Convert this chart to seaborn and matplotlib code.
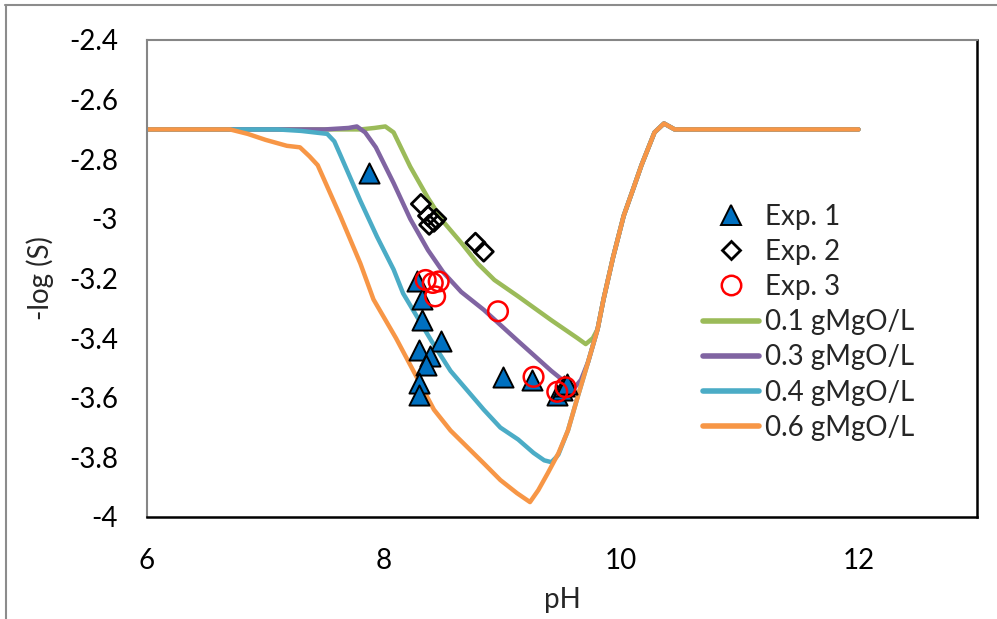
import numpy as np
import pandas as pd
import matplotlib
matplotlib.use("Agg")
import matplotlib.pyplot as plt
import seaborn as sns
from matplotlib.lines import Line2D

# ---- data ----
# model curves (pH, -log S)
c01_x = [6.0, 7.5, 7.8, 7.92, 8.01, 8.08, 8.22, 8.37, 8.50, 8.65, 8.79, 8.93, 9.13, 9.41, 9.63, 9.70, 9.76,
         9.80, 9.85, 9.93, 10.02, 10.10, 10.17, 10.28, 10.36, 10.45, 12.0]
c01_y = [-2.70, -2.70, -2.70, -2.695, -2.69, -2.71, -2.825, -2.93, -3.01, -3.08, -3.15, -3.205, -3.26, -3.34, -3.40, -3.42, -3.40,
         -3.37, -3.27, -3.13, -2.99, -2.90, -2.82, -2.71, -2.68, -2.70, -2.70]

c03_x = [6.0, 7.5, 7.7, 7.77, 7.84, 7.93, 8.08, 8.22, 8.37, 8.50, 8.65, 8.84, 9.13, 9.41, 9.55, 9.61, 9.66,
         9.72, 9.80, 9.85, 9.93, 10.02, 10.10, 10.17, 10.28, 10.36, 10.45, 12.0]
c03_y = [-2.70, -2.70, -2.695, -2.69, -2.71, -2.76, -2.88, -3.00, -3.105, -3.18, -3.245, -3.305, -3.41, -3.51, -3.555, -3.564, -3.54,
         -3.48, -3.37, -3.27, -3.13, -2.99, -2.90, -2.82, -2.71, -2.68, -2.70, -2.70]

c04_x = [6.0, 7.1, 7.3, 7.52, 7.58, 7.63, 7.80, 7.94, 8.08, 8.16, 8.40, 8.56, 8.84, 8.98, 9.13, 9.26, 9.35, 9.41, 9.45,
         9.47, 9.55, 9.63, 9.72, 9.80, 9.85, 9.93, 10.02, 10.10, 10.17, 10.28, 10.36, 10.45, 12.0]
c04_y = [-2.70, -2.70, -2.705, -2.715, -2.74, -2.785, -2.94, -3.06, -3.17, -3.25, -3.41, -3.51, -3.64, -3.70, -3.74, -3.785, -3.81, -3.816, -3.80,
         -3.79, -3.71, -3.60, -3.48, -3.37, -3.27, -3.13, -2.99, -2.90, -2.82, -2.71, -2.68, -2.70, -2.70]

c06_x = [6.0, 6.7, 6.85, 7.0, 7.18, 7.29, 7.37, 7.44, 7.63, 7.80, 7.91, 8.10, 8.42, 8.56, 8.84, 8.98, 9.12, 9.23,
         9.30, 9.38, 9.47, 9.55, 9.63, 9.72, 9.80, 9.85, 9.93, 10.02, 10.10, 10.17, 10.28, 10.36, 10.45, 12.0]
c06_y = [-2.70, -2.70, -2.715, -2.735, -2.755, -2.76, -2.79, -2.82, -2.99, -3.15, -3.27, -3.40, -3.64, -3.71, -3.82, -3.876, -3.92, -3.95,
         -3.91, -3.853, -3.786, -3.71, -3.60, -3.48, -3.37, -3.27, -3.13, -2.99, -2.90, -2.82, -2.71, -2.68, -2.70, -2.70]

curve_labels = ["0.1 gMgO/L", "0.3 gMgO/L", "0.4 gMgO/L", "0.6 gMgO/L"]
curve_colors = ["#9BBB59", "#8064A2", "#4BACC6", "#F79646"]

# experiments
exp1_x = [7.87, 8.28, 8.32, 8.32, 8.29, 8.48, 8.39, 8.35, 8.29, 8.29, 9.00, 9.25, 9.46, 9.50, 9.52, 9.54]
exp1_y = [-2.845, -3.21, -3.27, -3.34, -3.44, -3.41, -3.46, -3.49, -3.55, -3.59, -3.53, -3.54, -3.59, -3.575, -3.56, -3.555]

exp2_x = [8.31, 8.37, 8.42, 8.44, 8.38, 8.77, 8.84]
exp2_y = [-2.95, -2.99, -3.01, -3.00, -3.02, -3.08, -3.11]

exp3_x = [8.35, 8.41, 8.46, 8.43, 8.96, 9.26, 9.46, 9.53]
exp3_y = [-3.205, -3.215, -3.21, -3.26, -3.31, -3.53, -3.58, -3.565]

x_ticks = [6, 8, 10, 12]
y_ticks = [-4, -3.8, -3.6, -3.4, -3.2, -3, -2.8, -2.6, -2.4]
y_tick_labels = ["-4", "-3.8", "-3.6", "-3.4", "-3.2", "-3", "-2.8", "-2.6", "-2.4"]

# ---- build tables ----
curves = pd.concat([
    pd.DataFrame({"pH": cx, "logS": cy, "series": lab})
    for cx, cy, lab in zip([c01_x, c03_x, c04_x, c06_x], [c01_y, c03_y, c04_y, c06_y], curve_labels)
], ignore_index=True)

sns.set_style("white")
plt.rcParams["font.family"] = ["Lato", "DejaVu Sans"]

fig = plt.figure(figsize=(9.97, 6.19), dpi=100)
ax = fig.add_axes([0.1474, 0.1648, 0.8326, 0.7706])

sns.lineplot(data=curves, x="pH", y="logS", hue="series", palette=curve_colors,
             hue_order=curve_labels, estimator=None, sort=False, lw=3.2, ax=ax,
             legend=False, solid_capstyle="round", solid_joinstyle="round")

sns.scatterplot(x=exp1_x, y=exp1_y, marker="^", s=210, color="#0070C0",
                edgecolor="black", linewidth=1.4, ax=ax, zorder=5)
sns.scatterplot(x=exp2_x, y=exp2_y, marker="D", s=95, facecolor="none",
                edgecolor="black", linewidth=2.0, ax=ax, zorder=5)
sns.scatterplot(x=exp3_x, y=exp3_y, marker="o", s=200, facecolor="none",
                edgecolor="#FF0000", linewidth=1.8, ax=ax, zorder=5)

ax.set_xlim(6, 13)
ax.set_ylim(-4, -2.4)
ax.set_xticks(x_ticks)
ax.set_xticklabels([str(t) for t in x_ticks])
ax.set_yticks(y_ticks)
ax.set_yticklabels(y_tick_labels)
ax.tick_params(axis="both", length=0, labelsize=20, colors="black")
ax.tick_params(axis="y", pad=21)
ax.tick_params(axis="x", pad=22)
ax.set_xlabel("pH", fontsize=20, labelpad=10)
ax.set_ylabel("-log (S)", fontsize=20, labelpad=11)

for side in ["left", "top"]:
    ax.spines[side].set_color("#868686")
    ax.spines[side].set_linewidth(1.5)
for side in ["right", "bottom"]:
    ax.spines[side].set_color("black")
    ax.spines[side].set_linewidth(1.8)

handles = [
    Line2D([], [], ls="none", marker="^", ms=14, mfc="#0070C0", mec="black", mew=1.4),
    Line2D([], [], ls="none", marker="D", ms=9, mfc="none", mec="black", mew=2.0),
    Line2D([], [], ls="none", marker="o", ms=14, mfc="none", mec="#FF0000", mew=1.8),
] + [Line2D([], [], color=c, lw=4, solid_capstyle="round") for c in curve_colors]
labels = ["Exp. 1", "Exp. 2", "Exp. 3"] + curve_labels
ax.legend(handles, labels, loc="upper left", bbox_to_anchor=(0.657, 0.68), frameon=False,
          fontsize=20, handlelength=2.0, handletextpad=0.2, labelspacing=0.33, borderaxespad=0)

# outer chart border (top and left visible)
fig.add_artist(Line2D([0.005, 1.0], [0.992, 0.992], transform=fig.transFigure, color="#8c8c8c", lw=1.5))
fig.add_artist(Line2D([0.006, 0.006], [0.0, 0.992], transform=fig.transFigure, color="#8c8c8c", lw=1.5))

fig.savefig("out.png", dpi=100)
